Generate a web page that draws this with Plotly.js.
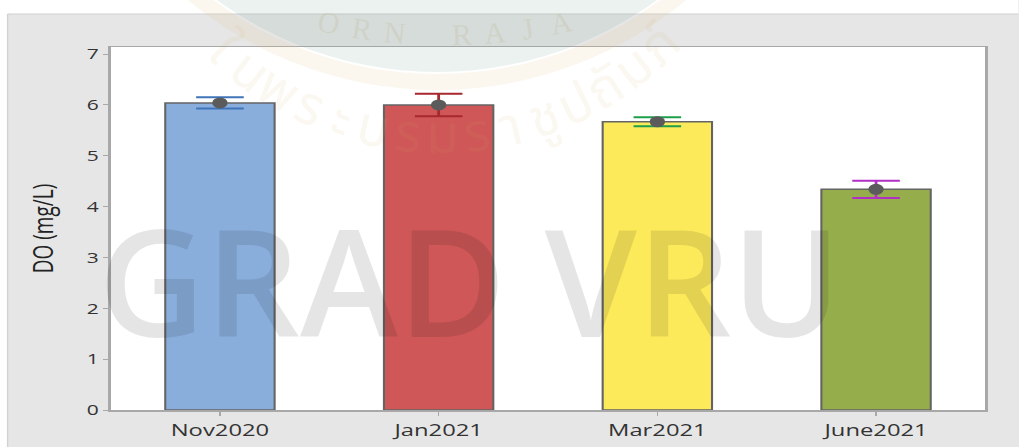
<!DOCTYPE html>
<html><head><meta charset="utf-8">
<script src="https://cdn.plot.ly/plotly-3.0.1.min.js"></script>
<style>
html,body{margin:0;padding:0;background:#fff;overflow:hidden;}
#wrap{position:relative;width:1019px;height:447px;}
#chart{position:absolute;left:0;top:0;width:728px;height:447px;transform:scaleX(1.399725);transform-origin:0 0;}
#overlay{position:absolute;left:0;top:0;width:1019px;height:447px;pointer-events:none;}
</style></head><body>
<div id="wrap"><div id="chart"></div><div id="overlay"></div></div>
<script>
// ---- data ----
const categories = ['Nov2020', 'Jan2021', 'Mar2021', 'June2021'];
const doMeans = [6.04, 6.00, 5.67, 4.34];
const doErrors = [0.11, 0.22, 0.09, 0.17];
const barColors = ['#8aaedc', '#cf5757', '#fdea5b', '#96ad4b'];
const errorColors = ['#3f74b9', '#a8282f', '#1f9e4a', '#b22fc5'];
const yTickValues = [0, 1, 2, 3, 4, 5, 6, 7];
const yAxisTitle = 'DO (mg/L)';
const watermarkText = 'GRAD VRU';
const sealTextThai = ['ใ', 'น', 'พ', 'ร', 'ะ', 'บ', 'ร', 'ม', 'ร', 'า', 'ชู', 'ป', 'ถั', 'ม', 'ภ์'];
const sealTextLatin = ['O', 'R', 'N', ' ', 'R', 'A', 'J', 'A'];

// ---- main chart (drawn narrow, stretched horizontally like the reference) ----
const S = 1019 / 728;
const W = 728, H = 447;
const M = {l: 111 / S, r: 33 / S, t: 47, b: 37};
const PW = W - M.l - M.r, PH = H - M.t - M.b;
const px = u => (u - M.l) / PW;
const py = v => (H - M.b - v) / PH;

const traces = [{
  type: 'bar', x: categories, y: doMeans, width: 0.5,
  marker: {color: barColors, line: {color: '#646464', width: 1.5}},
  hoverinfo: 'skip'
}];
categories.forEach((c, i) => {
  traces.push({
    type: 'scatter', mode: 'markers', x: [c], y: [doMeans[i]],
    marker: {color: '#5b5b5b', size: 11},
    error_y: {type: 'data', array: [doErrors[i]], visible: true,
              color: errorColors[i], thickness: 2, width: 17},
    hoverinfo: 'skip'
  });
});

const font = 'Open Sans, Noto Sans, sans-serif';
const layout = {
  width: W, height: H,
  margin: {l: M.l, r: M.r, t: M.t, b: M.b, pad: 0},
  paper_bgcolor: '#e6e6e6', plot_bgcolor: '#ffffff',
  showlegend: false,
  xaxis: {
    type: 'category', range: [-0.5, 3.5],
    showline: true, linecolor: '#a8a8a8', linewidth: 1.5, mirror: true,
    ticks: 'outside', ticklen: 4, tickwidth: 1, tickcolor: '#a8a8a8',
    tickfont: {family: font, size: 17, color: '#333333'},
    showgrid: false, zeroline: false, fixedrange: true
  },
  yaxis: {
    range: [0, 7.14], tickvals: yTickValues,
    showline: true, linecolor: '#a8a8a8', linewidth: 1.5, mirror: true,
    ticks: 'outside', ticklen: 4, tickwidth: 1, tickcolor: '#a8a8a8',
    tickfont: {family: font, size: 15, color: '#333333'},
    showgrid: false, zeroline: false, fixedrange: true,
    title: {text: yAxisTitle, font: {family: font, size: 19, color: '#222222'}, standoff: 18}
  },
  shapes: [
    {type: 'rect', xref: 'paper', yref: 'paper', layer: 'below',
     x0: px(0), x1: px(W), y0: py(0), y1: py(14), fillcolor: '#ffffff', line: {width: 0}},
    {type: 'rect', xref: 'paper', yref: 'paper', layer: 'below',
     x0: px(0), x1: px(8 / S), y0: py(0), y1: py(H), fillcolor: '#ffffff', line: {width: 0}},
    {type: 'line', xref: 'paper', yref: 'paper', layer: 'below',
     x0: px(8 / S), x1: px(W), y0: py(14), y1: py(14), line: {color: '#cfcfcf', width: 1}},
    {type: 'line', xref: 'paper', yref: 'paper', layer: 'below',
     x0: px(8 / S), x1: px(8 / S), y0: py(14), y1: py(H), line: {color: '#d2d2d2', width: 1}}
  ]
};
Plotly.newPlot('chart', traces, layout, {staticPlot: true, displayModeBar: false});

// ---- watermark overlay (not stretched) ----
function arcAnnotations(chars, cx, cy, r, a0, a1, size, family, color) {
  const n = chars.length;
  return chars.map((ch, i) => {
    const a = a0 + (a1 - a0) * (n === 1 ? 0.5 : i / (n - 1));
    const rad = a * Math.PI / 180;
    return {
      xref: 'x', yref: 'y', x: cx + r * Math.sin(rad), y: cy + r * Math.cos(rad),
      text: ch, showarrow: false, textangle: -a,
      xanchor: 'center', yanchor: 'middle',
      font: {family: family, size: size, color: color}
    };
  });
}
const ovAnn = [].concat(
  arcAnnotations(sealTextThai, 440, -175, 312, -44, 45, 54, 'Noto Sans Thai, Noto Sans, sans-serif', 'rgba(215,170,100,0.09)'),
  arcAnnotations(sealTextLatin, 445, -525, 560, -12, 12, 30, 'Liberation Serif, serif', 'rgba(190,170,130,0.2)'),
  [{xref: 'x', yref: 'y', x: 469.5, y: 279, text: watermarkText, showarrow: false,
    xanchor: 'center', yanchor: 'middle',
    font: {family: 'Open Sans, sans-serif', size: 148, weight: 600, color: 'rgba(0,0,0,0.10)'}}]
);
const ovLayout = {
  width: 1019, height: 447, margin: {l: 0, r: 0, t: 0, b: 0, pad: 0},
  paper_bgcolor: 'rgba(0,0,0,0)', plot_bgcolor: 'rgba(0,0,0,0)', showlegend: false,
  xaxis: {range: [0, 1019], visible: false, fixedrange: true},
  yaxis: {range: [447, 0], visible: false, fixedrange: true},
  shapes: [
    {type: 'circle', xref: 'x', yref: 'y', x0: 437 - 372, x1: 437 + 372, y0: -300 - 372, y1: -300 + 372,
     fillcolor: 'rgba(120,170,150,0.15)', line: {width: 0}},
    {type: 'circle', xref: 'x', yref: 'y', x0: 437 - 382, x1: 437 + 382, y0: -300 - 382, y1: -300 + 382,
     fillcolor: 'rgba(0,0,0,0)', line: {color: 'rgba(225,195,140,0.14)', width: 16}}
  ],
  annotations: ovAnn
};
Plotly.newPlot('overlay', [], ovLayout, {staticPlot: true, displayModeBar: false});
</script>
</body></html>
